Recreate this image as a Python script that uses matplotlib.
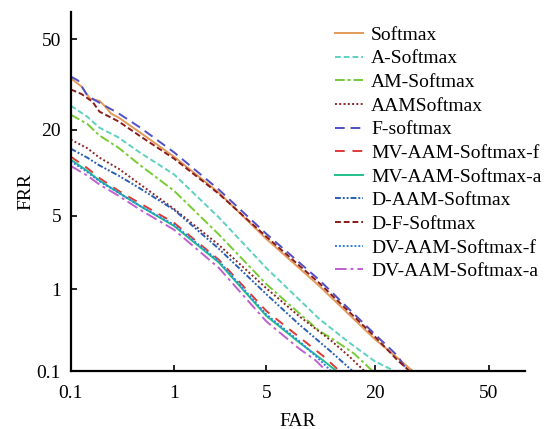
import numpy as np
import matplotlib
matplotlib.use('Agg')
import matplotlib.pyplot as plt
from statistics import NormalDist

# DET curves: FAR (%) and FRR (%)
far_softmax = [0.1, 0.13, 0.16, 0.2, 0.23, 0.26, 0.31, 0.5, 1.0, 2.3, 5.0, 10.5, 20, 25, 28.7]
frr_softmax = [35.8, 33, 29, 28.3, 26.5, 24.5, 23.3, 19.2, 13.7, 7.65, 3.15, 1.08, 0.26, 0.15, 0.1]

far_a = [0.1, 0.15, 0.2, 0.31, 0.5, 1.0, 2.3, 5.0, 10.5, 15, 20, 24.3]
frr_a = [26.8, 23.5, 20.5, 18.0, 14.5, 10.4, 4.85, 1.66, 0.46, 0.24, 0.135, 0.1]

far_am = [0.1, 0.15, 0.2, 0.31, 0.5, 1.0, 2.3, 5.0, 10.5, 12.2, 16, 19.5]
frr_am = [24.1, 21.5, 18.5, 15.6, 12, 7.9, 3.45, 1.13, 0.33, 0.27, 0.17, 0.1]

far_aam = [0.1, 0.15, 0.2, 0.31, 0.5, 1.0, 2.3, 5.0, 8, 12.2, 15, 17.9]
frr_aam = [17.5, 15.5, 13.5, 11.4, 8.8, 5.7, 2.77, 1.02, 0.5, 0.25, 0.16, 0.1]

far_f = [0.1, 0.12, 0.15, 0.18, 0.22, 0.31, 0.5, 1.0, 2.3, 5.0, 10.5, 20, 25, 27.4]
frr_f = [36.4, 35, 30, 28.5, 27, 24.5, 20.5, 14.6, 8.07, 3.5, 1.25, 0.3, 0.16, 0.1]

far_mvf = [0.1, 0.15, 0.2, 0.31, 0.5, 1.0, 2.3, 5.0, 8, 11, 13.5]
frr_mvf = [13.7, 11.5, 9.8, 7.9, 6.3, 4.36, 2.0, 0.57, 0.28, 0.16, 0.1]

far_mva = [0.1, 0.15, 0.2, 0.31, 0.5, 1.0, 2.3, 5.0, 8, 11, 13]
frr_mva = [13.1, 11.0, 9.4, 7.65, 6.0, 4.1, 1.88, 0.5, 0.24, 0.14, 0.1]

far_daam = [0.1, 0.15, 0.2, 0.31, 0.5, 1.0, 2.3, 5.0, 8, 12.2, 15.7]
frr_daam = [15.4, 13.5, 12, 10.2, 8.2, 5.6, 2.55, 0.88, 0.4, 0.18, 0.1]

far_df = [0.1, 0.13, 0.17, 0.2, 0.31, 0.5, 1.0, 2.3, 5.0, 10.5, 20, 25, 27.9]
frr_df = [32, 30.5, 28, 25, 22.2, 18.3, 13.3, 7.5, 3.3, 1.16, 0.28, 0.14, 0.1]

far_dvf = [0.1, 0.15, 0.2, 0.31, 0.5, 1.0, 2.3, 5.0, 8, 10, 12.2]
frr_dvf = [12.8, 10.8, 9.3, 7.65, 6.0, 4.2, 1.94, 0.52, 0.25, 0.16, 0.1]

far_dva = [0.1, 0.15, 0.2, 0.31, 0.5, 1.0, 2.3, 5.0, 8, 10, 11.5]
frr_dva = [11.9, 10.2, 8.8, 7.25, 5.6, 3.8, 1.66, 0.43, 0.2, 0.14, 0.1]

tick_vals = [0.1, 1, 5, 20, 50]
tick_labels = ['0.1', '1', '5', '20', '50']

# (label, far, frr, color, linestyle)
curves = [
    ('Softmax', far_softmax, frr_softmax, '#E39A5A', '-'),
    ('A-Softmax', far_a, frr_a, '#5ED0C0', (0, (3, 1.5))),
    ('AM-Softmax', far_am, frr_am, '#77CC33', (0, (5, 1.5, 1.5, 1.5))),
    ('AAMSoftmax', far_aam, frr_aam, '#8B2525', (0, (1, 1.2))),
    ('F-softmax', far_f, frr_f, '#5050C8', (0, (5, 3))),
    ('MV-AAM-Softmax-f', far_mvf, frr_mvf, '#E03A3A', (0, (5, 4))),
    ('MV-AAM-Softmax-a', far_mva, frr_mva, '#20C08A', '-'),
    ('D-AAM-Softmax', far_daam, frr_daam, '#2A5FB5', (0, (3, 1, 1, 1, 1, 1))),
    ('D-F-Softmax', far_df, frr_df, '#8B1A1A', (0, (3, 1.5))),
    ('DV-AAM-Softmax-f', far_dvf, frr_dvf, '#3080E8', (0, (1, 1))),
    ('DV-AAM-Softmax-a', far_dva, frr_dva, '#C060D0', (0, (6, 2, 1.5, 2))),
]

_nd = NormalDist()
_ppf = np.vectorize(_nd.inv_cdf, otypes=[float])
_cdf = np.vectorize(_nd.cdf, otypes=[float])


def probit(p):
    p = np.clip(np.asarray(p, dtype=float) / 100.0, 1e-9, 1 - 1e-9)
    return _ppf(p)


def inv_probit(q):
    return _cdf(np.asarray(q, dtype=float)) * 100.0


plt.rcParams['font.family'] = ['Liberation Serif', 'DejaVu Serif']

fig = plt.figure(figsize=(5.53, 4.29), dpi=100)
ax = fig.add_axes([0.128, 0.135, 0.821, 0.837])

for label, far, frr, color, ls in curves:
    ax.plot(far, frr, color=color, linestyle=ls, linewidth=1.4, label=label)

ax.set_xscale('function', functions=(probit, inv_probit))
ax.set_yscale('function', functions=(probit, inv_probit))
ax.set_xlim(0.1, 60.5)
ax.set_ylim(0.1, 60)
ax.set_xticks(tick_vals)
ax.set_xticklabels(tick_labels)
ax.set_yticks(tick_vals)
ax.set_yticklabels(tick_labels)
ax.minorticks_off()

for side in ['top', 'right']:
    ax.spines[side].set_visible(False)
for side in ['left', 'bottom']:
    ax.spines[side].set_linewidth(1.6)
ax.tick_params(direction='in', length=4, width=1.2, labelsize=14)
ax.tick_params(axis='x', pad=10)
ax.tick_params(axis='y', pad=7)

ax.set_xlabel('FAR', fontsize=14, labelpad=8)
ax.set_ylabel('FRR', fontsize=14, labelpad=2)

ax.legend(loc='upper left', bbox_to_anchor=(0.606, 0.939), bbox_transform=fig.transFigure,
          frameon=False, fontsize=14, handlelength=1.45, handletextpad=0.4,
          labelspacing=0.31, borderaxespad=0, borderpad=0)

fig.savefig('out.png', dpi=100)
